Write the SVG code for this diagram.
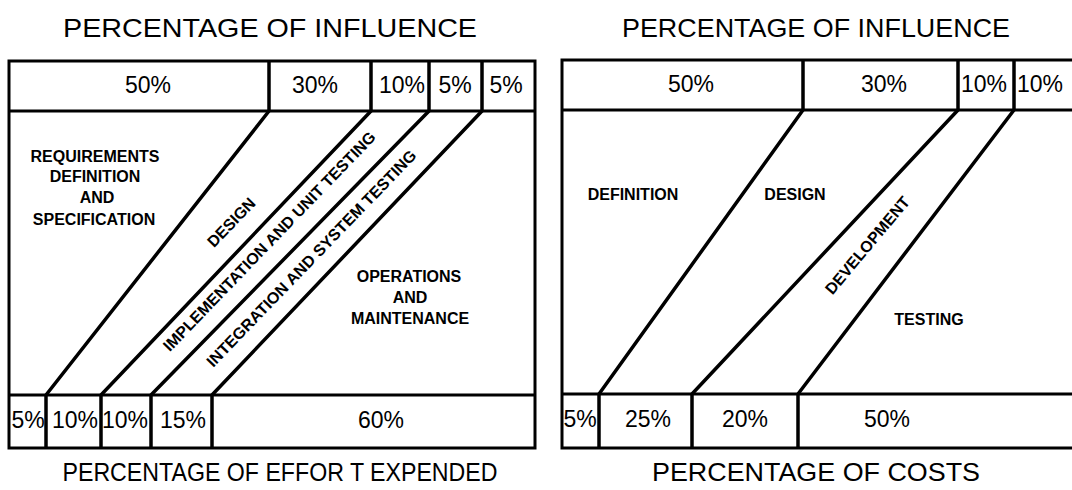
<svg xmlns="http://www.w3.org/2000/svg" width="1072" height="490" viewBox="0 0 1072 490">
<style>
.frame{fill:none;stroke:#000;stroke-width:3}
.div{fill:none;stroke:#000;stroke-width:3;stroke-linejoin:round}
.diag{fill:none;stroke:#000;stroke-width:3.5;stroke-linejoin:round}
.title{font-family:"Liberation Sans",Arial,sans-serif;font-size:25px;fill:#000;text-anchor:middle}
.pct{font-family:"Liberation Sans",Arial,sans-serif;font-size:23px;fill:#000;text-anchor:middle}
.lbl{font-family:"Liberation Sans",Arial,sans-serif;font-size:16px;font-weight:bold;fill:#000;text-anchor:middle}
</style>
<rect width="1072" height="490" fill="#fff"/>
<g id="titles">
<text class="title" x="270" y="37" textLength="414" lengthAdjust="spacingAndGlyphs">PERCENTAGE OF INFLUENCE</text>
<text class="title" x="816" y="37" textLength="388" lengthAdjust="spacingAndGlyphs">PERCENTAGE OF INFLUENCE</text>
<text class="title" x="280" y="481" textLength="435" lengthAdjust="spacingAndGlyphs">PERCENTAGE OF EFFOR T EXPENDED</text>
<text class="title" x="816" y="481" textLength="328" lengthAdjust="spacingAndGlyphs">PERCENTAGE OF COSTS</text>
</g>
<g id="panel-left">
<rect class="frame" x="9" y="61" width="526" height="387"/>
<line class="div" x1="9" y1="111" x2="535" y2="111"/>
<line class="div" x1="9" y1="395" x2="535" y2="395"/>
<g id="left-connectors">
<path class="diag" d="M269 61 V111 L46 395 V448"/>
<path class="diag" d="M371 61 V111 L101 395 V448"/>
<path class="diag" d="M429 61 V111 L151 395 V448"/>
<path class="diag" d="M482 61 V111 L212 395 V448"/>
</g>
<g id="left-top-pcts">
<text class="pct" x="148" y="93">50%</text>
<text class="pct" x="315" y="93">30%</text>
<text class="pct" x="402" y="93">10%</text>
<text class="pct" x="455" y="93">5%</text>
<text class="pct" x="506" y="93">5%</text>
</g>
<g id="left-bottom-pcts">
<text class="pct" x="28" y="428">5%</text>
<text class="pct" x="75" y="428">10%</text>
<text class="pct" x="125" y="428">10%</text>
<text class="pct" x="183" y="428">15%</text>
<text class="pct" x="381" y="428">60%</text>
</g>
<g id="left-requirements">
<text class="lbl" x="95" y="162">REQUIREMENTS</text>
<text class="lbl" x="95" y="182">DEFINITION</text>
<text class="lbl" x="97" y="203">AND</text>
<text class="lbl" x="94" y="225">SPECIFICATION</text>
</g>
<g id="left-design">
<text class="lbl" transform="translate(231,222) rotate(-46)" y="6">DESIGN</text>
</g>
<g id="left-implementation">
<text class="lbl" transform="translate(269,241) rotate(-46)" y="6" textLength="298" lengthAdjust="spacingAndGlyphs">IMPLEMENTATION AND UNIT TESTING</text>
</g>
<g id="left-integration">
<text class="lbl" transform="translate(311,258) rotate(-46)" y="6" textLength="294" lengthAdjust="spacingAndGlyphs">INTEGRATION AND SYSTEM TESTING</text>
</g>
<g id="left-operations">
<text class="lbl" x="409" y="282">OPERATIONS</text>
<text class="lbl" x="410" y="303">AND</text>
<text class="lbl" x="410" y="324">MAINTENANCE</text>
</g>
</g>
<g id="panel-right">
<path class="frame" d="M1075 60 H562 V448 H1075"/>
<line class="div" x1="562" y1="110" x2="1075" y2="110"/>
<line class="div" x1="562" y1="394" x2="1075" y2="394"/>
<g id="right-connectors">
<path class="diag" d="M803 60 V110 L599 394 V448"/>
<path class="diag" d="M958 60 V110 L692 394 V448"/>
<path class="diag" d="M1014 60 V110 L798 394 V448"/>
</g>
<g id="right-top-pcts">
<text class="pct" x="691" y="92">50%</text>
<text class="pct" x="884" y="92">30%</text>
<text class="pct" x="984" y="92">10%</text>
<text class="pct" x="1040" y="92">10%</text>
</g>
<g id="right-bottom-pcts">
<text class="pct" x="580" y="427">5%</text>
<text class="pct" x="648" y="427">25%</text>
<text class="pct" x="745" y="427">20%</text>
<text class="pct" x="887" y="427">50%</text>
</g>
<g id="right-definition"><text class="lbl" x="633" y="200">DEFINITION</text></g>
<g id="right-design"><text class="lbl" x="795" y="200">DESIGN</text></g>
<g id="right-development"><text class="lbl" transform="translate(867,245) rotate(-50)" y="6">DEVELOPMENT</text></g>
<g id="right-testing"><text class="lbl" x="929" y="325">TESTING</text></g>
</g>
</svg>
